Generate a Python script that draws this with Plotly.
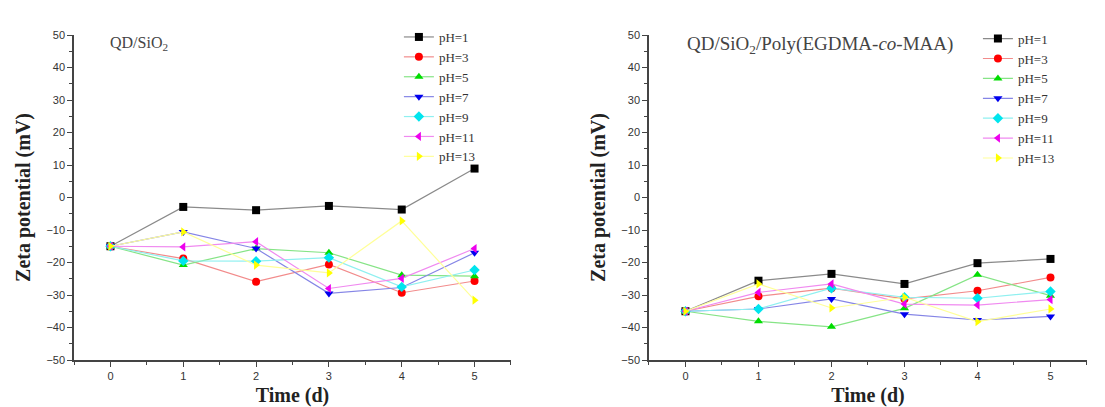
import plotly.graph_objects as go

days = [0, 1, 2, 3, 4, 5]
series_names = ["pH=1", "pH=3", "pH=5", "pH=7", "pH=9", "pH=11", "pH=13"]

# Left panel: QD/SiO2
left_ph1 = [-15.0, -2.9, -3.9, -2.6, -3.7, 8.9]
left_ph3 = [-15.0, -18.8, -25.9, -20.6, -29.3, -25.7]
left_ph5 = [-15.0, -20.8, -15.7, -17.0, -23.9, -24.2]
left_ph7 = [-15.0, -10.6, -15.7, -29.5, -27.7, -17.0]
left_ph9 = [-15.0, -19.5, -19.6, -18.5, -27.5, -22.3]
left_ph11 = [-15.0, -15.2, -13.6, -28.0, -24.9, -15.7]
left_ph13 = [-15.0, -10.6, -20.8, -23.2, -7.2, -31.6]

# Right panel: QD/SiO2/Poly(EGDMA-co-MAA)
right_ph1 = [-35.0, -25.6, -23.5, -26.6, -20.2, -18.9]
right_ph3 = [-35.0, -30.4, -27.9, -31.2, -28.7, -24.6]
right_ph5 = [-35.0, -38.1, -39.8, -34.1, -23.8, -30.2]
right_ph7 = [-35.0, -34.3, -31.2, -35.9, -37.7, -36.6]
right_ph9 = [-35.0, -34.3, -27.9, -30.7, -31.0, -28.9]
right_ph11 = [-35.0, -29.2, -26.6, -32.8, -33.1, -31.4]
right_ph13 = [-35.0, -26.6, -34.0, -30.7, -38.2, -34.3]

left_data = [left_ph1, left_ph3, left_ph5, left_ph7, left_ph9, left_ph11, left_ph13]
right_data = [right_ph1, right_ph3, right_ph5, right_ph7, right_ph9, right_ph11, right_ph13]

marker_colors = ["#000000", "#ff0000", "#00dd00", "#0000ee", "#00e5ee", "#ee00ee", "#ffff00"]
line_colors = ["#8a8a8a", "#f28b8b", "#86e486", "#8585e6", "#8ff0f0", "#f08af0", "#ffff99"]
symbols = ["square", "circle", "triangle-up", "triangle-down", "diamond", "triangle-left", "triangle-right"]

fig = go.Figure()

for data, xa, ya, lg in [(left_data, "x", "y", "legend"), (right_data, "x2", "y2", "legend2")]:
    for name, vals, mc, lc, sym in zip(series_names, data, marker_colors, line_colors, symbols):
        fig.add_trace(go.Scatter(
            x=days, y=vals, name=name, mode="lines+markers",
            xaxis=xa, yaxis=ya, legend=lg,
            line=dict(color=lc, width=1.2),
            marker=dict(symbol=sym, color=mc, size=8, line=dict(width=0)),
        ))

serif = "Liberation Serif, Times New Roman, serif"
tick_font = dict(family="Liberation Sans Narrow, Liberation Sans, Arial", size=11, color="#333333")
title_font = dict(family=serif, size=20, color="#222222")

xaxis_common = dict(
    range=[-0.5, 5.5], tickmode="array", tickvals=days, ticktext=[str(d) for d in days],
    showgrid=False, zeroline=False, showline=True, linecolor="#444444", linewidth=1.5,
    ticks="outside", ticklen=5, tickwidth=1.2, tickcolor="#444444", tickfont=tick_font,
    minor=dict(dtick=0.5, ticks="outside", ticklen=3, tickcolor="#444444", tickwidth=1),
    title=dict(text="<b>Time (d)</b>", font=title_font, standoff=11),
    automargin=False, mirror=False,
)
yaxis_common = dict(
    range=[-50, 50], dtick=10, tick0=0,
    showgrid=False, zeroline=False, showline=True, linecolor="#444444", linewidth=1.5,
    ticks="outside", ticklen=5, tickwidth=1.2, tickcolor="#444444", tickfont=tick_font,
    minor=dict(dtick=5, ticks="outside", ticklen=3, tickcolor="#444444", tickwidth=1),
    title=dict(text="<b>Zeta potential (mV)</b>", font=title_font, standoff=10),
    automargin=False, mirror=False,
)

legend_font = dict(family=serif, size=13, color="#333333")

fig.update_layout(
    width=1105, height=407, autosize=False,
    margin=dict(l=0, r=0, t=35, b=47),
    paper_bgcolor="white", plot_bgcolor="white",
    xaxis=dict(domain=[0.067, 0.4624], anchor="y", **xaxis_common),
    yaxis=dict(domain=[0, 1], anchor="x", **yaxis_common),
    xaxis2=dict(domain=[0.5873, 0.9837], anchor="y2", **xaxis_common),
    yaxis2=dict(domain=[0, 1], anchor="x2", **yaxis_common),
    legend=dict(x=0.361, y=1.04, xanchor="left", yanchor="top", bgcolor="rgba(0,0,0,0)",
                font=legend_font, tracegroupgap=0),
    legend2=dict(x=0.885, y=1.035, xanchor="left", yanchor="top", bgcolor="rgba(0,0,0,0)",
                 font=legend_font, tracegroupgap=0),
    showlegend=True,
    annotations=[
        dict(text="QD/SiO<sub>2</sub>", xref="x", yref="y", x=-0.03, y=47.5,
             xanchor="left", yanchor="middle", showarrow=False,
             font=dict(family=serif, size=16, color="#444444")),
        dict(text="QD/SiO<sub>2</sub>/Poly(EGDMA-<i>co</i>-MAA)", xref="x2", yref="y2", x=-0.01, y=47,
             xanchor="left", yanchor="middle", showarrow=False,
             font=dict(family=serif, size=19, color="#444444")),
    ],
)

fig.write_html(
    "out.html",
    config={"displayModeBar": False},
    post_script="document.body.style.margin='0';document.body.style.padding='0';",
)
